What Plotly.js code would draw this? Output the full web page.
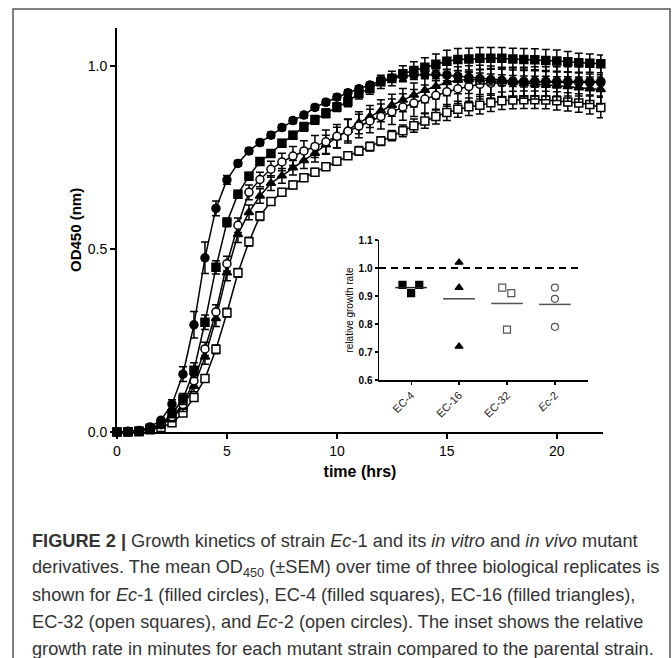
<!DOCTYPE html>
<html>
<head>
<meta charset="utf-8">
<script src="https://cdn.plot.ly/plotly-3.0.1.min.js"></script>
<style>html,body{margin:0;padding:0;background:#fff;}#chart{width:672px;height:658px;}</style>
</head>
<body>
<div id="chart"></div>
<script>
// ---- data ----
const timeHrs = [0,0.5,1,1.5,2,2.5,3,3.5,4,4.5,5,5.5,6,6.5,7,7.5,8,8.5,9,9.5,10,10.5,11,11.5,12,12.5,13,13.5,14,14.5,15,15.5,16,16.5,17,17.5,18,18.5,19,19.5,20,20.5,21,21.5,22];
const ec1 = [0,0.002,0.004,0.014,0.032,0.076,0.158,0.293,0.476,0.611,0.689,0.734,0.768,0.791,0.811,0.832,0.851,0.866,0.887,0.901,0.915,0.927,0.938,0.948,0.960,0.967,0.972,0.975,0.977,0.977,0.975,0.972,0.969,0.966,0.963,0.961,0.959,0.958,0.957,0.957,0.956,0.956,0.955,0.955,0.955];
const ec1Sem = [0,0,0,0.003,0.006,0.012,0.02,0.036,0.043,0.02,0.012,0.008,0.008,0.008,0.008,0.008,0.008,0.008,0.008,0.008,0.008,0.008,0.008,0.008,0.01,0.01,0.012,0.012,0.012,0.012,0.015,0.015,0.015,0.015,0.015,0.015,0.015,0.015,0.015,0.015,0.015,0.015,0.015,0.015,0.015];
const ec4 = [0,0.001,0.003,0.010,0.022,0.050,0.090,0.169,0.300,0.450,0.573,0.650,0.699,0.739,0.761,0.789,0.811,0.834,0.853,0.871,0.888,0.903,0.925,0.939,0.957,0.966,0.979,0.988,0.997,1.005,1.013,1.018,1.019,1.021,1.021,1.021,1.019,1.018,1.017,1.015,1.014,1.012,1.009,1.008,1.006];
const ec4Sem = [0,0,0,0.003,0.006,0.01,0.015,0.02,0.02,0.018,0.012,0.01,0.01,0.01,0.01,0.01,0.01,0.012,0.012,0.012,0.012,0.014,0.015,0.016,0.018,0.02,0.022,0.024,0.026,0.028,0.03,0.03,0.03,0.03,0.03,0.03,0.03,0.03,0.03,0.03,0.03,0.028,0.026,0.025,0.024];
const ec16 = [0,0.001,0.002,0.008,0.018,0.038,0.068,0.125,0.205,0.310,0.435,0.540,0.600,0.645,0.680,0.700,0.722,0.742,0.762,0.785,0.805,0.825,0.845,0.862,0.878,0.893,0.907,0.921,0.934,0.945,0.955,0.961,0.963,0.962,0.960,0.957,0.955,0.952,0.950,0.948,0.946,0.944,0.941,0.938,0.936];
const ec16Sem = [0,0,0,0.003,0.005,0.01,0.012,0.015,0.02,0.022,0.022,0.022,0.02,0.02,0.02,0.02,0.02,0.022,0.024,0.026,0.028,0.03,0.03,0.03,0.03,0.03,0.032,0.033,0.034,0.035,0.036,0.037,0.038,0.04,0.04,0.04,0.04,0.04,0.04,0.04,0.04,0.04,0.04,0.04,0.04];
const ec32 = [0,0,0.001,0.006,0.012,0.025,0.052,0.094,0.146,0.226,0.326,0.435,0.520,0.590,0.630,0.655,0.675,0.695,0.710,0.725,0.740,0.755,0.768,0.780,0.795,0.810,0.823,0.837,0.850,0.862,0.873,0.882,0.889,0.893,0.900,0.905,0.907,0.908,0.908,0.907,0.905,0.902,0.899,0.895,0.887];
const ec32Sem = [0,0,0,0.002,0.004,0.006,0.008,0.01,0.01,0.012,0.012,0.012,0.012,0.012,0.01,0.01,0.01,0.01,0.01,0.01,0.01,0.01,0.012,0.012,0.012,0.014,0.016,0.018,0.02,0.02,0.022,0.022,0.024,0.024,0.024,0.024,0.024,0.024,0.024,0.024,0.025,0.025,0.025,0.026,0.028];
const ec2 = [0,0.001,0.002,0.008,0.020,0.042,0.075,0.140,0.227,0.328,0.460,0.565,0.655,0.690,0.718,0.738,0.754,0.768,0.780,0.793,0.808,0.822,0.836,0.850,0.862,0.875,0.888,0.899,0.910,0.920,0.930,0.938,0.944,0.950,0.953,0.955,0.957,0.957,0.958,0.958,0.958,0.958,0.958,0.958,0.958];
const ec2Sem = [0,0,0,0.003,0.005,0.01,0.012,0.015,0.018,0.02,0.02,0.02,0.02,0.02,0.022,0.024,0.026,0.028,0.03,0.032,0.032,0.032,0.032,0.032,0.034,0.035,0.036,0.037,0.038,0.04,0.04,0.04,0.04,0.04,0.04,0.04,0.04,0.04,0.04,0.04,0.04,0.04,0.04,0.04,0.04];

// inset: relative growth rate per mutant (3 replicates each)
const insetLabels = ['EC-4','EC-16','EC-32','<i>Ec</i>-2'];
const rateEC4 = [0.94,0.91,0.94];
const rateEC16 = [1.02,0.93,0.72];
const rateEC32 = [0.93,0.91,0.78];
const rateEc2 = [0.93,0.89,0.79];
const mainYTicks = [0,0.5,1.0];
const mainXTicks = [0,5,10,15,20];
const insetYTicks = [0.6,0.7,0.8,0.9,1.0,1.1];

// ---- styles (positions within category) ----
const jitter = {EC4:[-0.18,0,0.17], EC16:[0,0,0], EC32:[-0.1,0.09,0], Ec2:[0,0,0]};
const halfW = 0.33;

function curve(y, sem, symbol, fill){
  return {x: timeHrs, y: y, type:'scatter', mode:'lines+markers', cliponaxis:false,
    line:{color:'#000', width:1.5},
    marker:{symbol:symbol, size:8, color:fill, line:{color:'#000', width:1.5}},
    error_y:{type:'data', array:sem, visible:true, color:'#000', thickness:1.5, width:4},
    xaxis:'x', yaxis:'y', showlegend:false, hoverinfo:'skip'};
}
const mean = a => a.reduce((s,v)=>s+v,0)/a.length;
function dots(cat, vals, offs, symbol, fill, edge){
  return {x: vals.map((v,i)=>cat+offs[i]), y: vals, type:'scatter', mode:'markers', cliponaxis:false,
    marker:{symbol:symbol, size:7, color:fill, line:{color:edge, width:1.2}},
    xaxis:'x2', yaxis:'y2', showlegend:false, hoverinfo:'skip'};
}
function meanLine(cat, vals, col){
  const m = mean(vals);
  return {x:[cat-halfW, cat+halfW], y:[m,m], type:'scatter', mode:'lines',
    line:{color:col, width:1.5}, xaxis:'x2', yaxis:'y2', showlegend:false, hoverinfo:'skip'};
}

const traces = [
  curve(ec32, ec32Sem, 'square', '#fff'),
  curve(ec16, ec16Sem, 'triangle-up', '#000'),
  curve(ec2, ec2Sem, 'circle', '#fff'),
  curve(ec4, ec4Sem, 'square', '#000'),
  curve(ec1, ec1Sem, 'circle', '#000'),
  dots(0, rateEC4, jitter.EC4, 'square', '#000', '#000'),
  dots(1, rateEC16, jitter.EC16, 'triangle-up', '#000', '#000'),
  dots(2, rateEC32, jitter.EC32, 'square', '#fff', '#555'),
  dots(3, rateEc2, jitter.Ec2, 'circle', '#fff', '#555'),
  meanLine(0, rateEC4, '#222'),
  meanLine(1, rateEC16, '#444'),
  meanLine(2, rateEC32, '#555'),
  meanLine(3, rateEc2, '#555')
];

const capFont = {family:'Liberation Sans, Arial, sans-serif', size:18.2, color:'#333'};
const captionLines = [
  '<b>FIGURE 2 |</b> Growth kinetics of strain <i>Ec</i>-1 and its <i>in vitro</i> and <i>in vivo</i> mutant',
  'derivatives. The mean OD<sub>450</sub> (±SEM) over time of three biological replicates is',
  'shown for <i>Ec</i>-1 (filled circles), EC-4 (filled squares), EC-16 (filled triangles),',
  'EC-32 (open squares), and <i>Ec</i>-2 (open circles). The inset shows the relative',
  'growth rate in minutes for each mutant strain compared to the parental strain.'
];
// pixel geometry helpers
const L=117, R=603, T=28, B=432, W=672, H=658;
const px = v => (v-L)/(R-L);
const py = v => (B-v)/(B-T);
const captionY = [541,568,595,622,649];
const annotations = captionLines.map((s,i)=>({text:s, xref:'paper', yref:'paper',
  x:px(30), y:py(captionY[i]), xanchor:'left', yanchor:'middle', showarrow:false, align:'left', font:capFont}));
annotations.push({text:'<b>OD450 (nm)</b>', xref:'paper', yref:'paper', x:px(75), y:py(230),
  xanchor:'center', yanchor:'middle', textangle:-90, showarrow:false, font:{size:15, color:'#000'}});

const layout = {
  width:W, height:H, margin:{l:L, r:W-R, t:T, b:H-B, pad:0},
  paper_bgcolor:'#fff', plot_bgcolor:'rgba(0,0,0,0)', showlegend:false,
  font:{family:'Liberation Sans, Arial, sans-serif', color:'#000'},
  xaxis:{range:[0,22.1], tickvals:mainXTicks, ticks:'outside', ticklen:5, tickwidth:2, tickcolor:'#000',
    showline:true, linewidth:2, linecolor:'#000', showgrid:false, zeroline:false,
    tickfont:{size:14, color:'#000'},
    title:{text:'<b>time (hrs)</b>', font:{size:16, color:'#000'}, standoff:8}},
  yaxis:{range:[0,1.104], tickvals:mainYTicks, tickformat:'.1f', ticks:'outside', ticklen:5, tickwidth:2, tickcolor:'#000',
    showline:true, linewidth:2, linecolor:'#000', showgrid:false, zeroline:false,
    tickfont:{size:14, color:'#000'}},
  xaxis2:{domain:[px(379), px(588)], anchor:'y2', range:[-0.67,3.69], tickvals:[0,1,2,3], ticktext:insetLabels,
    tickangle:-45, ticks:'outside', ticklen:3, tickwidth:1.2, tickcolor:'#000',
    showline:true, linewidth:1.5, linecolor:'#000', showgrid:false, zeroline:false,
    tickfont:{size:11, color:'#222'}},
  yaxis2:{domain:[py(380), py(240)], anchor:'x2', range:[0.6,1.1], tickvals:insetYTicks, tickformat:'.1f',
    ticks:'outside', ticklen:3, tickwidth:1.2, tickcolor:'#000',
    showline:true, linewidth:1.5, linecolor:'#000', showgrid:false, zeroline:false,
    tickfont:{size:10, color:'#000', weight:'bold'},
    title:{text:'relative growth rate', font:{size:10, color:'#000'}, standoff:3}},
  shapes:[
    {type:'line', xref:'x2 domain', yref:'y2', x0:0, x1:0.975, y0:1.0, y1:1.0,
      line:{color:'#000', width:2, dash:'7px,5px'}},
    {type:'rect', xref:'paper', yref:'paper', x0:px(13), x1:px(670), y0:py(9), y1:py(668),
      line:{color:'#555', width:1.5}, fillcolor:'rgba(0,0,0,0)'}
  ],
  annotations: annotations
};

Plotly.newPlot('chart', traces, layout, {displayModeBar:false, staticPlot:true});
</script>
</body>
</html>
